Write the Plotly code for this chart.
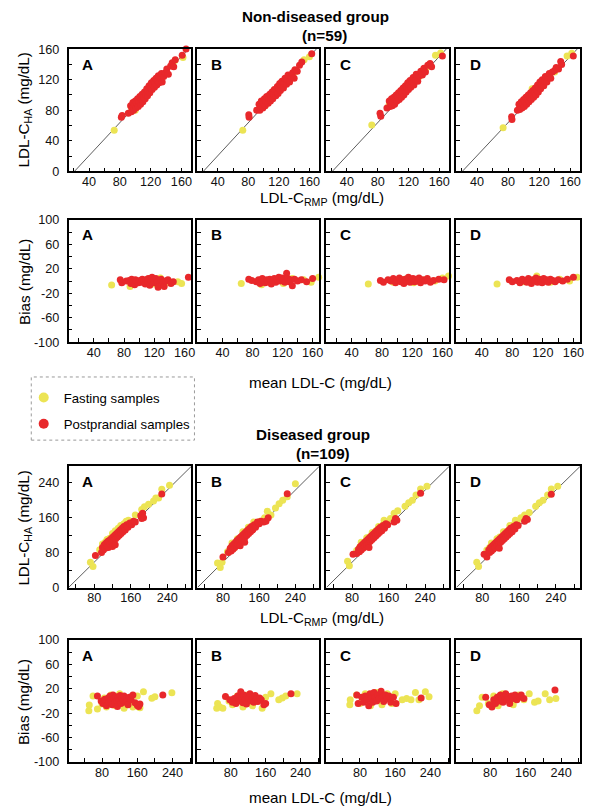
import plotly.graph_objects as go

W, H = 592, 806
# the page photo shows the figure slightly offset and scaled; map reference pixels accordingly
SX, OX = 0.986, 8.9
SY, OY = 0.980, 15.0

# ---------------- data ----------------
# Non-diseased group (n=59): LDL-C_HA vs LDL-C_RMP, (x, y) pairs
ND_SC_A_FAST = [(72.7, 54), (95, 84), (100, 80), (105, 92), (112, 103), (115, 106), (118, 105), (125, 112),
                (130, 120), (140, 128), (151.6, 145), (162, 149), (172, 168)]
ND_SC_A_POST = [(82, 71), (83, 73), (91, 76), (94, 86), (95, 78), (96, 83), (97, 90), (98, 80), (99, 87),
                (100, 92), (101, 83), (102, 89), (103, 95), (104, 85), (105, 91), (106, 98), (107, 88),
                (108, 94), (109, 101), (110, 91), (111, 97), (112, 104), (113, 95), (114, 100), (115, 108),
                (116, 99), (117, 105), (118, 112), (119, 103), (120, 109), (121, 116), (122, 107), (123, 113),
                (124, 119), (125, 110), (126, 116), (127, 122), (128, 113), (129, 119), (130, 125), (131, 116),
                (133, 122), (134, 128), (135, 117), (137, 124), (139, 129), (141, 134), (143, 127), (146, 138),
                (148, 142), (150, 137), (152, 146), (161, 152), (166, 160)]
ND_SC_B_FAST = [(72.7, 54), (96, 83), (102, 86), (108, 95), (113, 101), (117, 108), (122, 110), (128, 117),
                (133, 122), (141, 130), (153, 146), (160, 150), (168, 163)]
ND_SC_B_POST = [(80.6, 74), (81, 71), (91, 80), (94, 88), (95, 80), (96, 85), (97, 92), (99, 83), (100, 89),
                (101, 95), (102, 86), (103, 92), (104, 98), (106, 89), (107, 95), (108, 101), (109, 92),
                (110, 98), (111, 104), (112, 95), (113, 101), (114, 107), (116, 99), (117, 104), (118, 111),
                (119, 102), (120, 108), (121, 115), (122, 106), (123, 112), (124, 118), (126, 109), (127, 116),
                (128, 122), (130, 114), (131, 120), (132, 126), (134, 117), (136, 124), (138, 129), (140, 122),
                (141, 133), (144, 131), (147, 139), (150, 143), (163, 154), (167, 161)]
ND_SC_C_FAST = [(72.3, 60.6), (95, 88), (101, 92), (106, 97), (112, 103), (117, 112), (121, 110), (127, 118),
                (134, 124), (142, 133), (155, 152), (161.7, 155)]
ND_SC_C_POST = [(83, 76), (84, 72), (92, 83), (95, 92), (96, 85), (97, 89), (98, 95), (99, 86), (100, 91),
                (101, 97), (102, 88), (103, 94), (104, 100), (105, 92), (106, 97), (107, 103), (108, 94),
                (109, 100), (110, 106), (111, 97), (112, 103), (113, 109), (114, 100), (115, 106), (116, 112),
                (117, 104), (118, 110), (119, 116), (120, 107), (121, 113), (122, 119), (123, 110), (125, 117),
                (126, 123), (127, 113), (129, 120), (130, 127), (132, 118), (134, 125), (136, 131), (138, 126),
                (140, 135), (142, 130), (145, 139), (148, 141), (150, 137), (164, 151), (167.5, 164)]
ND_SC_D_FAST = [(73.6, 57), (96, 86), (102, 90), (107, 96), (111, 108), (116, 104), (121, 112), (126, 116),
                (131, 122), (140, 130), (156, 151), (162, 154.6)]
ND_SC_D_POST = [(84.5, 71.6), (85, 68), (92, 80), (94, 88), (95, 81), (96, 85), (97, 91), (98, 83), (99, 89),
                (100, 94), (101, 85), (102, 91), (103, 97), (104, 88), (105, 94), (106, 100), (107, 91),
                (108, 97), (109, 103), (110, 94), (111, 100), (112, 106), (113, 97), (114, 103), (115, 109),
                (116, 100), (117, 106), (118, 113), (119, 104), (120, 110), (121, 117), (122, 108), (123, 114),
                (124, 120), (126, 112), (127, 118), (128, 124), (130, 117), (131, 123), (133, 128), (135, 122),
                (137, 130), (140, 132), (142, 136), (145, 134), (147.8, 143.7), (149, 140), (164, 151),
                (168, 165.6)]

# Non-diseased group: Bias vs mean LDL-C, (x, y) pairs
ND_BA_A_FAST = [(63.6, -6.6), (88, -9), (110, 2), (118, -5), (128, 5), (140, -3), (151, -1), (156, -4), (172, 8)]
ND_BA_A_POST = [(75, 2), (77, -3), (83, 0), (87, 1), (89, -4), (90, 3), (92, -1), (94, -6), (95, 2), (97, 0),
                (99, -3), (101, 1), (103, -2), (104, 3), (106, 0), (108, -5), (109, 2), (111, -1), (112, 4),
                (114, -7), (116, 0), (117, 6), (119, 2), (120, -3), (122, 4), (124, -1), (125, -10), (127, 1),
                (129, 3), (131, -2), (133, -9), (135, 0), (138, 2), (142, -4), (145, -1), (165, 6)]
ND_BA_B_FAST = [(65, -4), (92, -6), (108, 3), (121, -4), (133, 4), (148, 2), (158, -2), (168, 6)]
ND_BA_B_POST = [(75, 3), (79, 1), (85, -1), (88, 2), (90, -4), (93, 4), (95, 0), (97, -3), (99, 2), (101, -1),
                (103, 3), (105, -5), (107, 1), (109, 4), (111, -2), (113, 2), (115, 6), (117, 0), (119, 5),
                (121, 3), (123, -2), (125.4, 12.6), (127, 4), (129, -1), (131, 2), (133, -7.7), (136, 3),
                (140, 0), (145, 2), (152, -1), (160, 4)]
ND_BA_C_FAST = [(62, -5), (95, -2), (110, 3), (122, -3), (137, 2), (150, 0), (160, 5), (168, 8)]
ND_BA_C_POST = [(78, 1), (82, -2), (88, 2), (92, 0), (95, 4), (98, -3), (100, 1), (103, 5), (105, -1), (107, 2),
                (109, -4), (111, 3), (113, 0), (115, 6), (117, -2), (119, 2), (121, 4), (123, -1), (125, 3),
                (127, 0), (129, 5), (131, -3), (134, 2), (137, 0), (140, 4), (144, -2), (148, 1), (155, 3),
                (162, 2)]
ND_BA_D_FAST = [(60, -5), (95, -1), (112, 8), (118, 2), (130, -2), (142, 3), (155, 0), (165, 6), (170, 4)]
ND_BA_D_POST = [(76, 2), (80, -1), (86, 1), (90, -3), (93, 3), (96, 0), (99, -2), (101, 4), (103, 1), (105, -4),
                (107, 2), (109, 0), (111, 5), (113, -2), (115, 3), (117, 1), (119, -3), (121, 4), (123, 0),
                (125, 2), (127, -2), (130, 3), (133, 1), (136, -1), (140, 2), (146, 0), (152, 3), (160, 6)]

# Diseased group (n=109): LDL-C_HA vs LDL-C_RMP
D_SC_A_FAST = [(71.6, 58), (77.3, 48), (92, 86.7), (98, 100), (104, 104), (108, 110), (114, 113), (120, 124),
               (126, 130), (132.5, 136), (138, 142), (145, 146), (150, 152), (155, 154), (160, 150), (170, 166),
               (184, 178.7), (190, 185), (199, 191), (210, 198), (215, 205), (221, 205), (228, 225),
               (245, 234.6)]
D_SC_A_POST = [(82.6, 73.6), (96, 80), (98, 92), (100, 86), (102, 98), (104, 90), (106, 102), (108, 94),
               (110, 106), (111, 92), (113, 108), (115, 100), (117, 112), (119, 104), (120, 94), (121, 116),
               (123, 108), (125, 120), (126, 98), (127, 112), (129, 124), (131, 116), (133, 128), (135, 120),
               (137, 132), (139, 124), (141, 136), (143, 128), (145, 140), (148, 132), (151, 144), (154, 138),
               (158, 148), (162, 144), (166, 152), (170, 150), (182, 165), (184, 158), (186, 170), (188, 160),
               (228, 214.6)]
D_SC_B_FAST = [(68, 56), (74, 46), (78, 58), (90, 82), (98, 92), (100, 102), (104, 90), (112, 112), (118, 112),
               (124, 128), (126, 120), (134, 130), (136, 138), (144, 138), (148, 150), (152, 146), (162, 152),
               (172, 160), (178, 175), (186, 166), (196, 182), (204, 192), (212, 200), (222, 208), (240, 238)]
D_SC_B_POST = [(80, 70), (92, 80), (96, 90), (98, 84), (100, 96), (102, 88), (104, 100), (106, 92), (108, 104),
               (110, 96), (111, 108), (113, 100), (115, 112), (117, 104), (118, 96), (119, 116), (121, 108),
               (123, 120), (125, 112), (127, 124), (128, 104), (129, 116), (131, 128), (133, 120), (135, 132),
               (137, 124), (139, 136), (141, 128), (143, 140), (146, 132), (149, 144), (152, 138), (156, 150),
               (160, 146), (164, 152), (170, 150), (175, 152), (180, 160), (222, 215)]
D_SC_C_FAST = [(70, 60), (74, 50), (90, 85), (96, 92), (100, 104), (104, 95), (110, 102), (112, 114),
               (118, 116), (124, 126), (132, 130), (138, 140), (140, 134), (148, 144), (150, 154), (156, 150),
               (164, 158), (172, 170), (180, 176), (196, 186), (204, 194), (212, 200), (220, 212), (230, 226),
               (244, 232)]
D_SC_C_POST = [(82, 76), (90, 78), (94, 88), (96, 82), (98, 94), (100, 86), (102, 98), (104, 90), (106, 102),
               (108, 94), (110, 106), (112, 98), (114, 110), (116, 102), (117, 92), (118, 114), (120, 106),
               (122, 118), (124, 110), (126, 122), (128, 114), (130, 126), (132, 118), (134, 130), (136, 122),
               (138, 134), (140, 126), (142, 138), (145, 130), (148, 142), (151, 136), (154, 146), (158, 144),
               (172, 150), (175, 158), (178, 154), (230, 216)]
D_SC_D_FAST = [(68, 58), (72, 48), (90, 86), (96, 92), (100, 102), (104, 94), (110, 100), (112, 112),
               (118, 116), (124, 112), (126, 128), (132, 128), (140, 134), (140, 142), (148, 144), (152, 154),
               (156, 150), (164, 160), (172, 166), (182, 172), (196, 186), (204, 194), (212, 200), (222, 212),
               (230, 226), (244, 232)]
D_SC_D_POST = [(84, 76), (90, 70), (94, 86), (96, 80), (98, 92), (100, 84), (102, 96), (104, 88), (106, 100),
               (108, 92), (110, 104), (112, 96), (114, 108), (116, 100), (117, 90), (118, 112), (120, 104),
               (122, 116), (124, 108), (126, 120), (128, 112), (130, 124), (132, 116), (134, 128), (136, 120),
               (138, 132), (140, 124), (142, 136), (145, 128), (148, 140), (151, 134), (154, 144), (158, 142),
               (172, 152), (175, 158), (178, 156), (230, 214)]

# Diseased group: Bias vs mean LDL-C
D_BA_A_FAST = [(50, -15.9), (51, -6.6), (59.5, 8.2), (69.5, -13), (80, -5), (85, 5), (90, -10), (100, 10),
               (110, -8), (120, 12), (130, -12), (140, 5), (145, -3), (150, -10), (160, 8), (166, -11),
               (174, 15), (193, 4.3), (200, 7), (238.6, 13.6)]
D_BA_A_POST = [(69.5, 8), (78, 0), (82, -4), (86, 3), (90, -8), (94, 5), (96, -2), (98, 8), (100, 1),
               (103, -6), (105, 10), (107, 4), (109, -3), (111, 7), (113, 0), (115, -9), (117, 6), (119, 2),
               (121, 9), (123, -4), (125, 5), (128, 1), (130, 8), (133, -2), (136, 4), (139, -6), (142, 6),
               (146, 2), (150, 10), (155, -3), (160, -7), (163, -9), (166, -5), (218, 9.8)]
D_BA_B_FAST = [(48, -12), (50, -4), (55, -10), (62, -12), (76, 0), (84, -6), (95, 8), (108, -10), (118, 10),
               (130, -8), (140, 4), (152, -12), (160, 6), (172, 12), (190, 2), (198, 5), (206, 8), (232, 12)]
D_BA_B_POST = [(68, 7.5), (78, 2), (84, -2), (88, 4), (92, -4), (96, 8), (100, 0), (103, 15), (105, 6),
               (108, -3), (110, 10), (113, 2), (116, -5), (118, 8), (121, 4), (124, 12), (127, 0), (130, 6),
               (133, -2), (136, 9), (139, 3), (142, -1), (146, 5), (150, 2), (156, -6), (160, -4), (218, 12)]
D_BA_C_FAST = [(57, -6), (58, 2), (72, 10), (80, -4), (92, 12), (104, -8), (118, 14), (130, -6), (142, 12),
               (152, -4), (160, 12), (176, 2), (186, 4), (196, 2), (206, 14), (214, 2), (228.6, 15), (237, 7)]
D_BA_C_POST = [(73, 10), (76, -4), (84, 6), (88, -2), (92, 8), (96, 2), (100, -8), (103, 12), (106, 4),
               (109, -2), (112, 14), (115, 6), (118, 0), (121, 10), (124, 4), (128, 16), (131, 6), (134, -1),
               (138, 10), (142, 4), (146, 8), (150, -2), (156, 6), (162, -4), (219, 5)]
D_BA_D_FAST = [(50, -16), (56, -8), (62, 6), (76, -4), (88, 8), (98, -8), (108, 12), (120, 4), (132, -6),
               (144, 10), (156, 2), (168, 12), (180, -2), (188, 0), (204, 12), (214, 2), (228, 4)]
D_BA_D_POST = [(70, 6), (78, -6), (84, -10), (88, 2), (92, -4), (96, 6), (100, 0), (103, 10), (106, 4),
               (109, -2), (112, 8), (115, 12), (118, 2), (121, 6), (124, -4), (128, 8), (132, 4), (136, 10),
               (140, 2), (146, 6), (150, 10), (156, 4), (226, 18)]

# identity (reference) line endpoints, per scatter row, in axis units
ND_LINE_X = [21, 169]
ND_LINE_Y = [0, 160]
D_LINE_X = [23.7, 293]
D_LINE_Y = [0, 278]

# tick labels
ND_SC_TICKS_X = [40, 80, 120, 160]
ND_SC_TICKS_Y = [0, 40, 80, 120, 160]
BIAS_TICKS_Y = [-100, -60, -20, 20, 60, 100]
ND_BA_TICKS_X = [40, 80, 120, 160]
D_SC_TICKS_X = [80, 160, 240]
D_SC_TICKS_Y = [0, 80, 160, 240]
D_BA_TICKS_X = [80, 160, 240]

PANEL_LETTERS = ["A", "B", "C", "D"]

# ---------------- layout geometry (reference pixels) ----------------
COLS_PX = [(69, 191), (197, 318), (325, 447), (454, 577)]
ROWS_PX = [(49, 171), (219.3, 341.3), (465, 586), (638.3, 760)]

YELLOW = "#ECE454"
RED = "#E8282B"
FONT = "Liberation Sans, Arial, sans-serif"
FS = 1 / SX  # font compensation for the photo scale


def fx(px):
    return ((px - OX) / SX) / W


def fy(py):
    return 1 - ((py - OY) / SY) / H


rows = [
    dict(data=[(ND_SC_A_FAST, ND_SC_A_POST), (ND_SC_B_FAST, ND_SC_B_POST),
               (ND_SC_C_FAST, ND_SC_C_POST), (ND_SC_D_FAST, ND_SC_D_POST)],
         xr=[13.4, 173], yr=[0, 160], xt=ND_SC_TICKS_X, yt=ND_SC_TICKS_Y, xminor=20, yminor=20,
         line=(ND_LINE_X, ND_LINE_Y)),
    dict(data=[(ND_BA_A_FAST, ND_BA_A_POST), (ND_BA_B_FAST, ND_BA_B_POST),
               (ND_BA_C_FAST, ND_BA_C_POST), (ND_BA_D_FAST, ND_BA_D_POST)],
         xr=[6.7, 169], yr=[-100, 100], xt=ND_BA_TICKS_X, yt=BIAS_TICKS_Y, xminor=20, yminor=20,
         line=None),
    dict(data=[(D_SC_A_FAST, D_SC_A_POST), (D_SC_B_FAST, D_SC_B_POST),
               (D_SC_C_FAST, D_SC_C_POST), (D_SC_D_FAST, D_SC_D_POST)],
         xr=[23.7, 293], yr=[0, 278], xt=D_SC_TICKS_X, yt=D_SC_TICKS_Y, xminor=40, yminor=40,
         line=(D_LINE_X, D_LINE_Y)),
    dict(data=[(D_BA_A_FAST, D_BA_A_POST), (D_BA_B_FAST, D_BA_B_POST),
               (D_BA_C_FAST, D_BA_C_POST), (D_BA_D_FAST, D_BA_D_POST)],
         xr=[3.9, 283], yr=[-100, 100], xt=D_BA_TICKS_X, yt=BIAS_TICKS_Y, xminor=40, yminor=20,
         line=None),
]

fig = go.Figure()
layout = {}
annotations = []
k = 0
for r, row in enumerate(rows):
    y0, y1 = ROWS_PX[r]
    for c in range(4):
        k += 1
        x0, x1 = COLS_PX[c]
        xa = "x" if k == 1 else f"x{k}"
        ya = "y" if k == 1 else f"y{k}"
        xname = "xaxis" if k == 1 else f"xaxis{k}"
        yname = "yaxis" if k == 1 else f"yaxis{k}"
        common = dict(showgrid=False, zeroline=False, showline=True, mirror=True, linecolor="black",
                      linewidth=1.5, ticks="inside", ticklen=4, tickcolor="black", tickwidth=1,
                      tickfont=dict(family=FONT, size=12.5 * FS, color="#111"), fixedrange=True)
        layout[xname] = dict(common, domain=[fx(x0), fx(x1)], range=row["xr"], anchor=ya,
                             tickmode="array", tickvals=row["xt"], ticktext=[str(v) for v in row["xt"]],
                             ticklabelstandoff=-2,
                             minor=dict(ticks="inside", ticklen=4, tickcolor="black", dtick=row["xminor"],
                                        tick0=0, showgrid=False))
        layout[yname] = dict(common, domain=[fy(y1), fy(y0)], range=row["yr"], anchor=xa,
                             tickmode="array", tickvals=row["yt"], ticktext=[str(v) for v in row["yt"]],
                             showticklabels=(c == 0), ticklabelstandoff=5,
                             minor=dict(ticks="inside", ticklen=4, tickcolor="black", dtick=row["yminor"],
                                        tick0=0, showgrid=False))
        if row["line"] is not None:
            lx, ly = row["line"]
            fig.add_trace(go.Scatter(x=lx, y=ly, mode="lines", line=dict(color="#333", width=0.8),
                                     xaxis=xa, yaxis=ya, showlegend=False, hoverinfo="skip"))
        fast, post = row["data"][c]
        for pts, col in ((fast, YELLOW), (post, RED)):
            fig.add_trace(go.Scatter(x=[p[0] for p in pts], y=[p[1] for p in pts], mode="markers",
                                     marker=dict(color=col, size=7, line=dict(width=0)),
                                     xaxis=xa, yaxis=ya, showlegend=False, cliponaxis=False))
        annotations.append(dict(text=f"<b>{PANEL_LETTERS[c]}</b>", x=fx(x0 + 19), y=fy(y0 + 15),
                                xref="paper", yref="paper", showarrow=False,
                                xanchor="center", yanchor="middle",
                                font=dict(family=FONT, size=15 * FS, color="black")))

# legend entries
fig.add_trace(go.Scatter(x=[None], y=[None], mode="markers", name="Fasting samples",
                         marker=dict(color=YELLOW, size=10), legendgroup="f"))
fig.add_trace(go.Scatter(x=[None], y=[None], mode="markers", name="Postprandial samples",
                         marker=dict(color=RED, size=10), legendgroup="p"))


def txt(s, x, y, size=14, bold=False, angle=0):
    annotations.append(dict(text=f"<b>{s}</b>" if bold else s, x=fx(x), y=fy(y), xref="paper", yref="paper",
                            showarrow=False, textangle=angle, xanchor="center", yanchor="middle",
                            font=dict(family=FONT, size=size * FS, color="black")))


txt("Non-diseased group", 314, 16, 15, True)
txt("(n=59)", 323, 35, 15, True)
txt("Diseased group", 312, 433, 15, True)
txt("(n=109)", 321.5, 452, 15, True)
txt("LDL-C<sub>HA</sub> (mg/dL)", 25, 110, 15, angle=-90)
txt("LDL-C<sub>RMP</sub> (mg/dL)", 321, 198, 15)
txt("Bias (mg/dL)", 25, 281, 15, angle=-90)
txt("mean LDL-C (mg/dL)", 319, 382, 15)
txt("LDL-C<sub>HA</sub> (mg/dL)", 25, 527, 15, angle=-90)
txt("LDL-C<sub>RMP</sub> (mg/dL)", 321, 617, 15)
txt("Bias (mg/dL)", 25, 700, 15, angle=-90)
txt("mean LDL-C (mg/dL)", 319, 795, 15)

shapes = [dict(type="rect", xref="paper", yref="paper", x0=fx(32), x1=fx(194), y0=fy(439), y1=fy(376),
               line=dict(color="#9a9a9a", width=1, dash="dot"))]

fig.update_layout(
    width=W, height=H, margin=dict(l=0, r=0, t=0, b=0),
    paper_bgcolor="white", plot_bgcolor="white",
    annotations=annotations, shapes=shapes,
    showlegend=True,
    legend=dict(x=fx(24.5), y=fy(381.5), xanchor="left", yanchor="top", bgcolor="rgba(0,0,0,0)",
                font=dict(family=FONT, size=13 * FS, color="black"), tracegroupgap=6, traceorder="grouped"),
    **layout,
)

fig.write_html("out.html")
